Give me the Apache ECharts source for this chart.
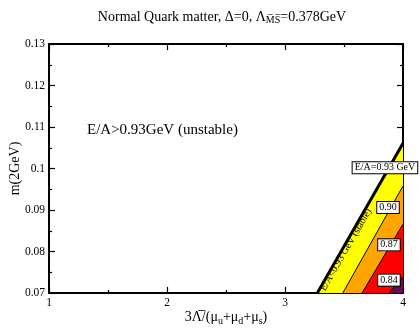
<!DOCTYPE html>
<html>
<head>
<meta charset="utf-8">
<script src="https://cdn.jsdelivr.net/npm/echarts@6/dist/echarts.min.js"></script>
<style>
  html, body { margin: 0; padding: 0; background: #fff; }
  #chart { width: 420px; height: 328px; }
</style>
</head>
<body>
<div id="chart"></div>
<script>
// x ticks and y ticks
const xTicks = [1, 2, 3, 4];
const yTicks = [0.07, 0.08, 0.09, 0.1, 0.11, 0.12, 0.13];

// E/A contour bands: where each contour hits the bottom (m=0.07) and the right edge (x=4)
const bandNames = ['0.93', '0.90', '0.87', '0.84'];
const bandStartX = [3.274, 3.49, 3.653, 3.881];
const bandEdgeY = [0.1061, 0.0958, 0.0866, 0.0739];

// boxed contour labels
const noteText = ['E/A=0.93 GeV', '0.90', '0.87', '0.84'];
const noteX = [3.847, 3.873, 3.881, 3.881];
const noteY = [0.1002, 0.0906, 0.0816, 0.0731];

const bandColors = ['#ffff00', '#ffa500', '#ff0000', '#660a55'];
const serif = '"Liberation Serif", "DejaVu Serif", serif';

const chart = echarts.init(document.getElementById('chart'));

const axisBase = {
    min: 1,
    max: 4,
    interval: 1,
    axisLine: { show: true, onZero: false, lineStyle: { color: '#000', width: 2 } },
    axisTick: { show: true, inside: true, length: 6, lineStyle: { color: '#000', width: 1.2 } },
    minorTick: { show: true, splitNumber: 2, length: 3, lineStyle: { color: '#000', width: 1.2 } },
    splitLine: { show: false }
};

chart.setOption({
    animation: false,
    title: {
        text: 'Normal Quark matter, \u0394=0, \u039b{sub|M\u0305S\u0305}=0.378GeV',
        left: 217,
        top: 4,
        textAlign: 'center',
        textStyle: {
            fontFamily: serif,
            fontSize: 14,
            fontWeight: 'normal',
            color: '#000',
            rich: {
                sub: { fontFamily: serif, fontSize: 10, verticalAlign: 'bottom', padding: [6, 0, 0, 0], color: '#000' }
            }
        }
    },
    grid: { left: 49, right: 17, top: 44, bottom: 35, containLabel: false, outerBoundsMode: 'none' },
    xAxis: [
        Object.assign({}, axisBase, {
            type: 'value',
            position: 'bottom',
            name: '3\u039b\u0305/(\u03bc{s|u}+\u03bc{s|d}+\u03bc{s|s})',
            nameLocation: 'middle',
            nameGap: 15,
            nameMoveOverlap: false,
            nameTextStyle: {
                fontFamily: serif, fontSize: 14, color: '#000',
                rich: { s: { fontFamily: serif, fontSize: 10, padding: [8, 0, 0, 0], color: '#000' } }
            },
            axisLabel: {
                fontFamily: serif, fontSize: 11.5, color: '#000', margin: 4,
                formatter: v => xTicks.includes(v) ? String(v) : ''
            }
        }),
        Object.assign({}, axisBase, {
            type: 'value',
            position: 'top',
            axisLabel: { show: false }
        })
    ],
    yAxis: [
        Object.assign({}, axisBase, {
            type: 'value',
            position: 'left',
            min: 0.07,
            max: 0.13,
            interval: 0.01,
            name: 'm(2GeV)',
            nameLocation: 'middle',
            nameGap: 27,
            nameMoveOverlap: false,
            nameTextStyle: { fontFamily: serif, fontSize: 14, color: '#000' },
            axisLabel: {
                fontFamily: serif, fontSize: 11.5, color: '#000', margin: 4,
                formatter: v => {
                    const r = Math.round(v * 100) / 100;
                    return yTicks.includes(r) ? String(r) : '';
                }
            }
        }),
        Object.assign({}, axisBase, {
            type: 'value',
            position: 'right',
            min: 0.07,
            max: 0.13,
            interval: 0.01,
            axisLabel: { show: false }
        })
    ],
    series: [
        {
            type: 'custom',
            xAxisIndex: 0,
            yAxisIndex: 0,
            clip: true,
            data: bandNames.map((n, i) => [bandStartX[i], bandEdgeY[i]]),
            renderItem: (params, api) => {
                const i = params.dataIndex;
                const x0 = api.value(0);
                const y1 = api.value(1);
                const a = api.coord([x0, 0.07]);
                const b = api.coord([4, 0.07]);
                const c = api.coord([4, y1]);
                return {
                    type: 'group',
                    children: [
                        {
                            type: 'polygon',
                            shape: { points: [a, b, c] },
                            style: { fill: bandColors[i], stroke: null }
                        },
                        {
                            type: 'line',
                            shape: { x1: a[0], y1: a[1], x2: c[0], y2: c[1] },
                            style: { stroke: '#000', lineWidth: i === 0 ? 3 : 1 }
                        }
                    ]
                };
            }
        },
        {
            type: 'scatter',
            symbolSize: 0,
            z: 5,
            itemStyle: { opacity: 1 },
            data: noteText.map((t, i) => ({ value: [noteX[i], noteY[i]], name: t })),
            label: {
                show: true,
                position: 'inside',
                formatter: p => p.name,
                fontFamily: serif,
                fontSize: 10,
                color: '#000',
                textBorderWidth: 0,
                backgroundColor: '#fff',
                borderColor: '#000',
                borderWidth: 1,
                padding: [1, 2, 0, 2]
            }
        },
        {
            type: 'scatter',
            symbolSize: 0,
            z: 5,
            itemStyle: { opacity: 1 },
            data: [
                { value: [3.517, 0.0804], name: 'E/A<0.93 GeV (stable)', label: { rotate: 60, fontSize: 10 } },
                { value: [1.322, 0.1093], name: 'E/A>0.93GeV (unstable)', label: { position: 'right', distance: 0, fontSize: 15 } }
            ],
            label: {
                show: true,
                position: 'inside',
                formatter: p => p.name,
                fontFamily: serif,
                color: '#000',
                textBorderWidth: 0
            }
        }
    ]
});
</script>
</body>
</html>
